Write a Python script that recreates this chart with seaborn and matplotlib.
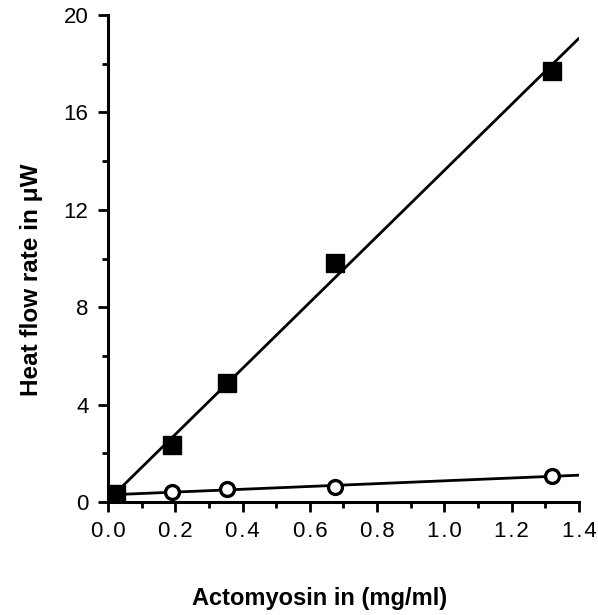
import numpy as np
import pandas as pd
import matplotlib
matplotlib.use("Agg")
import matplotlib.pyplot as plt
import seaborn as sns
from matplotlib.ticker import MultipleLocator

# data
conc_sq = [0.025, 0.19, 0.355, 0.675, 1.32]
heat_sq = [0.35, 2.35, 4.9, 9.8, 17.7]
conc_ci = [0.19, 0.355, 0.675, 1.32]
heat_ci = [0.42, 0.52, 0.62, 1.08]
x_ticks = [0.0, 0.2, 0.4, 0.6, 0.8, 1.0, 1.2, 1.4]
x_labels = ["0.0", "0.2", "0.4", "0.6", "0.8", "1.0", "1.2", "1.4"]
y_ticks = [0, 4, 8, 12, 16, 20]

sns.set_theme(style="ticks")
plt.rcParams["font.family"] = ["Liberation Sans", "DejaVu Sans"]

fig = plt.figure(figsize=(5.98, 6.15), dpi=100)
ax = fig.add_axes([0.1806, 0.1837, 0.7876, 0.7919])

# fitted lines
p_sq = np.polyfit(conc_sq, heat_sq, 1)
p_ci = np.polyfit(conc_ci, heat_ci, 1)
xs_sq = np.array([0.02, 1.4])
xs_ci = np.array([0.0, 1.4])
sns.lineplot(x=xs_sq, y=np.polyval(p_sq, xs_sq), color="black", lw=2, ax=ax)
sns.lineplot(x=xs_ci, y=np.polyval(p_ci, xs_ci), color="black", lw=2, ax=ax)

sns.scatterplot(x=conc_sq, y=heat_sq, marker="s", s=150, color="black",
                edgecolor="black", ax=ax, zorder=5)
sns.scatterplot(x=conc_ci, y=heat_ci, marker="o", s=100, facecolor="white",
                edgecolor="black", linewidth=2.4, ax=ax, zorder=5)

ax.set_xlim(0, 1.4)
ax.set_ylim(0, 20)
ax.set_xticks(x_ticks)
ax.set_xticklabels([l.replace(".", "\u200a.\u200a") for l in x_labels])
ax.set_yticks(y_ticks)
ax.xaxis.set_minor_locator(MultipleLocator(0.1))
ax.yaxis.set_minor_locator(MultipleLocator(2))
ax.tick_params(which="major", length=7, width=2, direction="out", labelsize=16,
               labelcolor="black", color="black", pad=7)
ax.tick_params(which="minor", length=4, width=2, direction="out", color="black")
for s in ["top", "right"]:
    ax.spines[s].set_visible(False)
for s in ["left", "bottom"]:
    ax.spines[s].set_linewidth(2.2)
    ax.spines[s].set_color("black")

ax.set_xlabel("")
ax.set_ylabel("")
fig.text(0.535, (615 - 598) / 615, "Actomyosin in (mg/ml)", fontsize=17,
         fontweight="bold", color="black", ha="center", va="center")
fig.text(32 / 598, (615 - 280) / 615, "Heat flow rate in μW", fontsize=17.5,
         fontweight="bold", color="black", ha="center", va="center", rotation=90)

fig.savefig("out.png", dpi=100)
